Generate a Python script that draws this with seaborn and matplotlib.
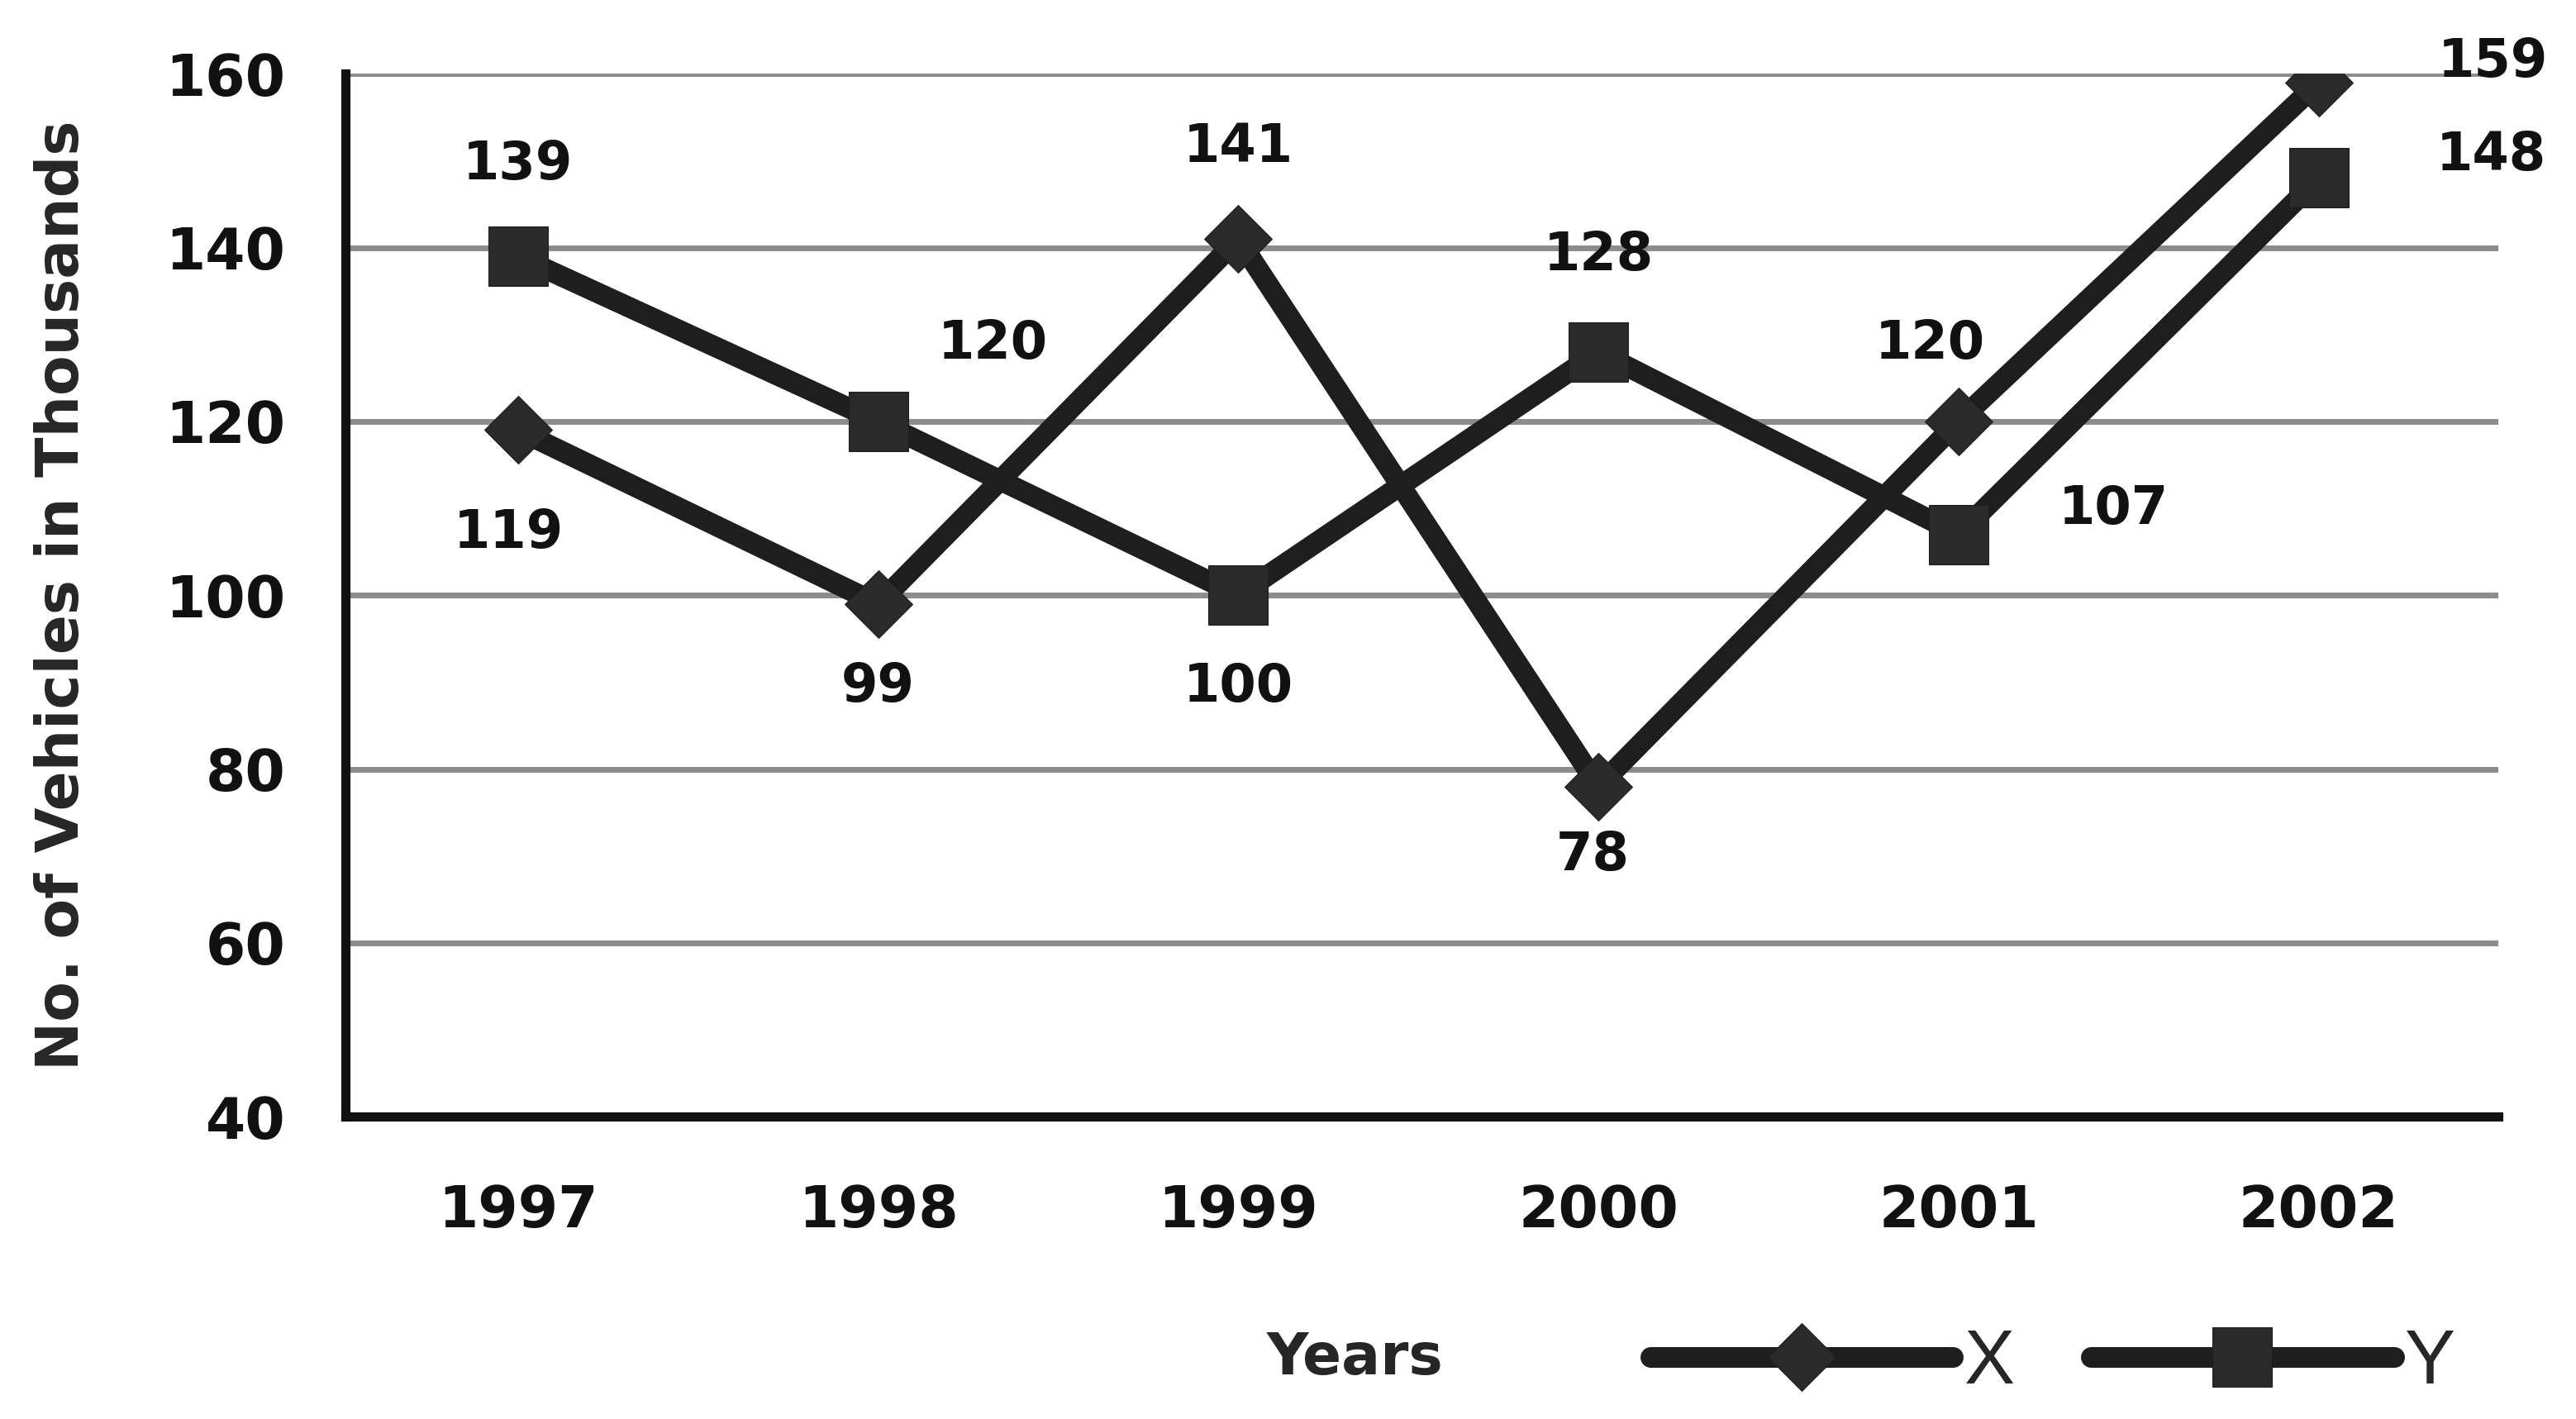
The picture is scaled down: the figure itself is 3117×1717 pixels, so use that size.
import matplotlib
matplotlib.use("Agg")
import pandas as pd
import seaborn as sns
from matplotlib import pyplot as plt

# chart data
years = [1997, 1998, 1999, 2000, 2001, 2002]
x_values = [119, 99, 141, 78, 120, 159]
y_values = [139, 120, 100, 128, 107, 148]
y_ticks = [40, 60, 80, 100, 120, 140, 160]
series_names = ["X", "Y"]

# where each value label sits relative to its point (points)
x_offsets = [(-8, -90), (0, -72), (0, 80), (-5, -60), (-25, 68), (152, 18)]
y_offsets = [(0, 80), (100, 68), (0, -80), (0, 84), (135, 22), (150, 20)]

df = pd.DataFrame(
    {
        "Year": years * 2,
        "Value": x_values + y_values,
        "Series": [series_names[0]] * len(years) + [series_names[1]] * len(years),
    }
)

sns.set_style("white")
plt.rcParams["font.family"] = ["DejaVu Sans"]

fig, ax = plt.subplots(figsize=(31.17, 17.17), dpi=100)
fig.subplots_adjust(left=0.134, right=0.97, top=0.948, bottom=0.213)

line_color = "#1e1e1e"

# X series: diamonds
sns.lineplot(
    data=df[df["Series"] == "X"], x="Year", y="Value",
    color=line_color, linewidth=18, marker="D", markersize=42,
    markeredgecolor=line_color, markerfacecolor="#2a2a2a",
    label="X", ax=ax, zorder=4,
)
# Y series: squares
sns.lineplot(
    data=df[df["Series"] == "Y"], x="Year", y="Value",
    color=line_color, linewidth=18, marker="s", markersize=52,
    markeredgecolor=line_color, markerfacecolor="#2a2a2a",
    label="Y", ax=ax, zorder=4,
)

# value labels
for yr, v, off in zip(years, x_values, x_offsets):
    ax.annotate(str(v), (yr, v), xytext=off, textcoords="offset points",
                ha="center", va="center", fontsize=46, fontweight="bold",
                color="#111111", annotation_clip=False)
for yr, v, off in zip(years, y_values, y_offsets):
    ax.annotate(str(v), (yr, v), xytext=off, textcoords="offset points",
                ha="center", va="center", fontsize=46, fontweight="bold",
                color="#111111", annotation_clip=False)

ax.set_xlim(1996.52, 2002.5)
ax.set_ylim(40, 160)
ax.set_xticks(years)
ax.set_xticklabels([str(y) for y in years])
ax.set_yticks(y_ticks)

ax.grid(axis="y", color="#8c8c8c", linewidth=5)
ax.grid(axis="x", visible=False)
ax.set_axisbelow(True)

for side in ["top", "right"]:
    ax.spines[side].set_visible(False)
for side in ["left", "bottom"]:
    ax.spines[side].set_linewidth(8)
    ax.spines[side].set_color("#111111")

ax.tick_params(axis="y", length=14, width=6, pad=38, labelsize=50, colors="#111111")
ax.tick_params(axis="x", length=8, width=4, pad=50, labelsize=50, colors="#111111")
for lbl in ax.get_xticklabels() + ax.get_yticklabels():
    lbl.set_fontweight("bold")

ax.set_ylabel("No. of Vehicles in Thousands", fontsize=51, fontweight="bold")
ax.yaxis.set_label_coords(-0.118, 0.5)
ax.set_xlabel("Years", fontsize=50, fontweight="bold")
ax.xaxis.set_label_coords(0.469, -0.205)

ax.legend(
    loc="center", bbox_to_anchor=(0.793, -0.237), ncol=2, frameon=False,
    prop={"family": "Liberation Sans", "size": 66},
    handlelength=4, handletextpad=0.15, columnspacing=1.0,
)

fig.savefig("out.png", dpi=100)
